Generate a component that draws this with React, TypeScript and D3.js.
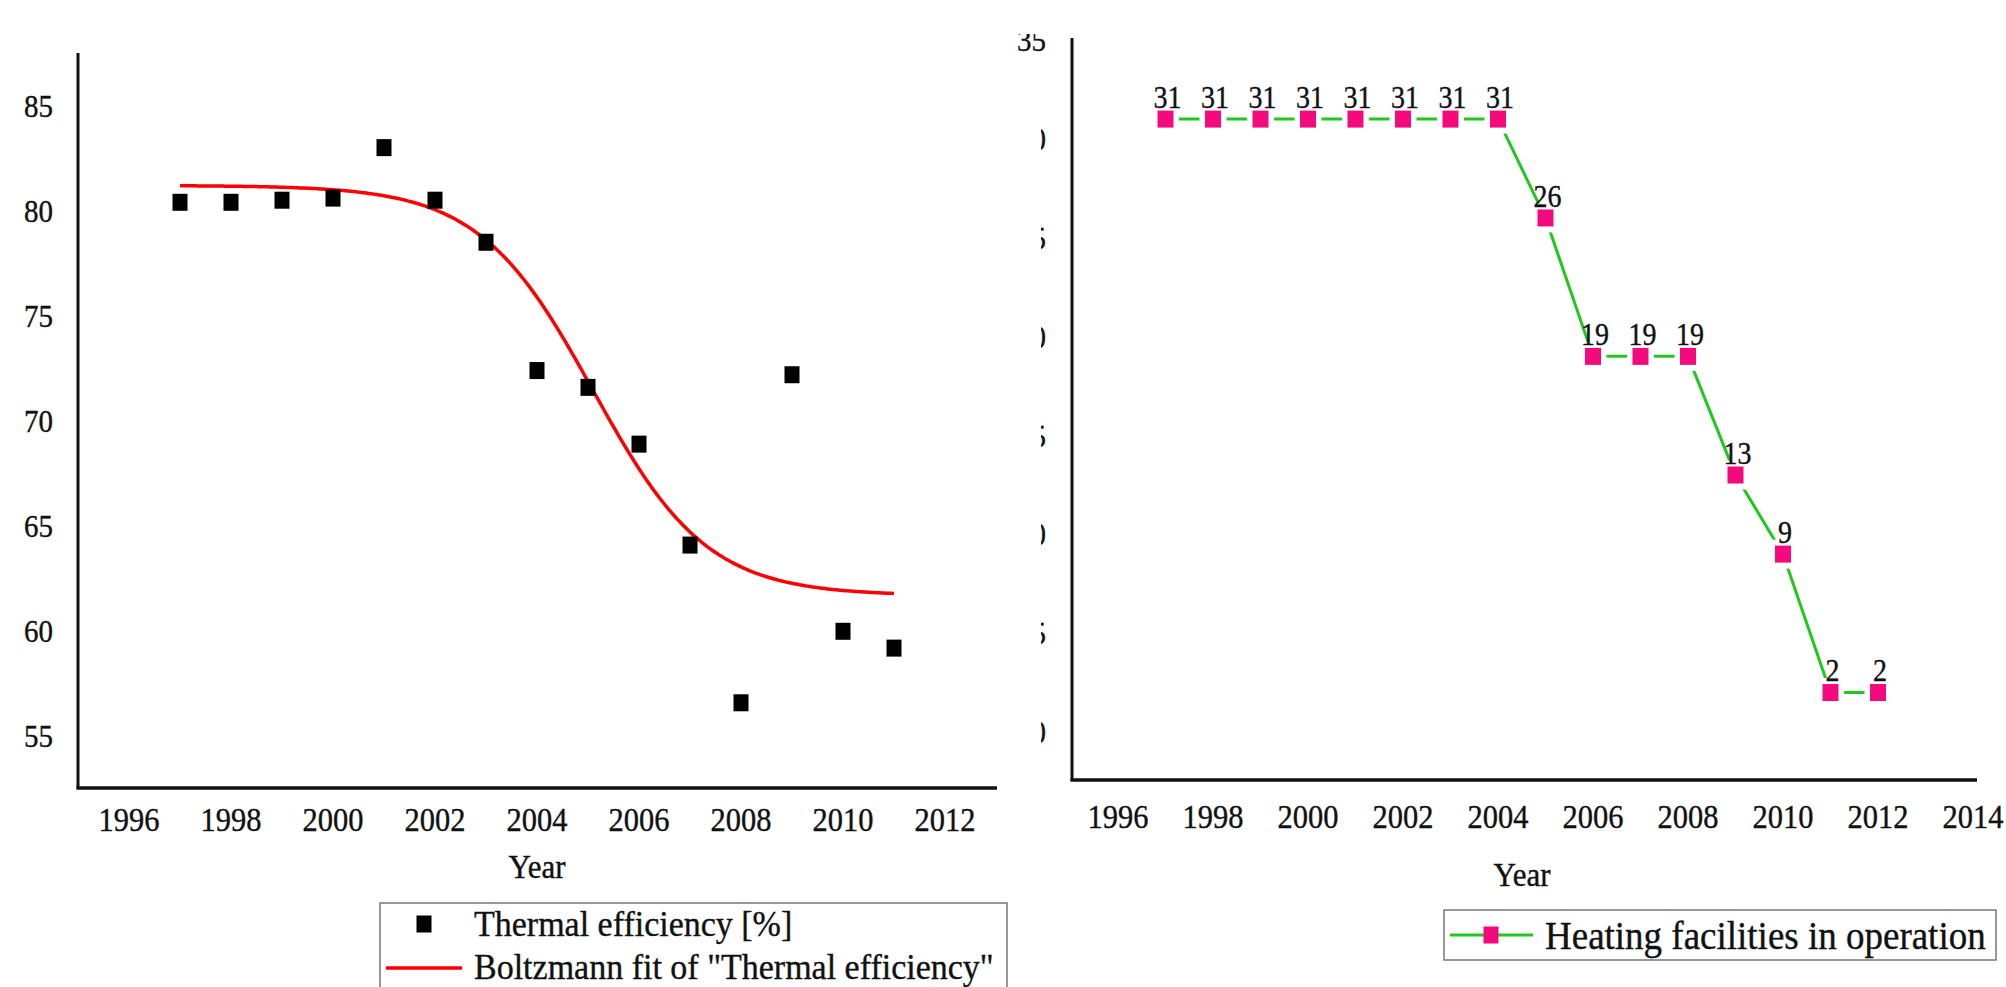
import React from "react";
import * as d3 from "d3";

// ---------- data ----------
const effYears = [1997, 1998, 1999, 2000, 2001, 2002, 2003, 2004, 2005, 2006, 2007, 2008, 2009, 2010, 2011];
const thermalEfficiency = [80.4, 80.4, 80.5, 80.6, 83.0, 80.5, 78.5, 72.4, 71.6, 68.9, 64.1, 56.6, 72.2, 60.0, 59.2];
// Boltzmann fit parameters (A1, A2, x0, dx)
const fitA1 = 81.2;
const fitA2 = 61.7;
const fitX0 = 2005.1;
const fitDx = 1.12;
const leftYTicks = [55, 60, 65, 70, 75, 80, 85];
const leftXTicks = [1996, 1998, 2000, 2002, 2004, 2006, 2008, 2010, 2012];

const facYears = [1997, 1998, 1999, 2000, 2001, 2002, 2003, 2004, 2005, 2006, 2007, 2008, 2009, 2010, 2011, 2012];
const facilities = [31, 31, 31, 31, 31, 31, 31, 31, 26, 19, 19, 19, 13, 9, 2, 2];
const rightYTicks = [0, 5, 10, 15, 20, 25, 30, 35];
const rightXTicks = [1996, 1998, 2000, 2002, 2004, 2006, 2008, 2010, 2012, 2014];

const FONT = "'Liberation Serif', 'Times New Roman', serif";
const PINK = "#f50a7d";
const GREEN = "#1fc81f";

function Txt({ x, y, size, anchor = "middle", sy = 1.12, children }: any) {
  return (
    <text
      transform={`translate(${x},${y}) scale(1,${sy})`}
      fontFamily={FONT}
      fontSize={size}
      textAnchor={anchor}
      dy="0.34em"
      fill="#111"
      stroke="#111"
      strokeWidth={0.35}
    >
      {children}
    </text>
  );
}

export default function App() {
  // left scales
  const lx = d3.scaleLinear().domain([1995, 2013]).range([78, 996]);
  const ly = d3.scaleLinear().domain([52.5, 87.5]).range([789, 53]);
  // right scales
  const rx = d3.scaleLinear().domain([1995, 2014]).range([1070.5, 1973]);
  const ry = d3.scaleLinear().domain([-2.5, 35]).range([781.5, 40]);

  const boltz = (t: number) => fitA2 + (fitA1 - fitA2) / (1 + Math.exp((t - fitX0) / fitDx));
  const fitXs = d3.range(effYears[0], effYears[effYears.length - 1] + 0.001, 0.05);
  const fitPath = d3
    .line<number>()
    .x((t) => lx(t))
    .y((t) => ly(boltz(t)))
    .curve(d3.curveMonotoneX)(fitXs) as string;

  const facPath = d3
    .line<number>()
    .x((_, i) => rx(facYears[i]))
    .y((v) => ry(v))(facilities) as string;

  const msW = 15;
  const msH = 17;

  return (
    <svg
      width={2006}
      height={987}
      style={{ position: "absolute", left: 0, top: 0, background: "#fff" }}
    >
      <defs>
        <clipPath id="rightClip">
          <rect x={1000} y={34} width={1006} height={953} />
        </clipPath>
      </defs>
      <rect x={0} y={0} width={2006} height={987} fill="#fff" />

      {/* ---------- right panel ---------- */}
      <g clipPath="url(#rightClip)">
        {rightYTicks.map((t) => (
          <Txt key={t} x={1046} y={ry(t)} size={29} anchor="end">
            {t}
          </Txt>
        ))}
        <line x1={1072} x2={1072} y1={38} y2={781} stroke="#111" strokeWidth={3} />
        <line x1={1070.5} x2={1977} y1={780} y2={780} stroke="#111" strokeWidth={3.5} />
        {rightXTicks.map((t) => (
          <Txt key={t} x={rx(t)} y={816} size={30.5}>
            {t}
          </Txt>
        ))}
        <Txt x={1522} y={874} size={31}>Year</Txt>

        <path d={facPath} fill="none" stroke={GREEN} strokeWidth={3} />
        {facilities.map((v, i) => (
          <rect
            key={"h" + i}
            x={rx(facYears[i]) - msW / 2 - 6}
            y={ry(v) - msH / 2 - 6}
            width={msW + 12}
            height={msH + 12}
            fill="#fff"
          />
        ))}
        {facilities.map((v, i) => (
          <rect
            key={"m" + i}
            x={rx(facYears[i]) - 8}
            y={ry(v) - msH / 2}
            width={16}
            height={msH}
            fill={PINK}
          />
        ))}
        {facilities.map((v, i) => (
          <Txt key={"l" + i} x={rx(facYears[i]) + 2} y={ry(v) - 22} size={28} sy={1.15}>
            {v}
          </Txt>
        ))}

        {/* legend */}
        <rect x={1444} y={910} width={552} height={50} fill="#fff" stroke="#777" strokeWidth={1.5} />
        <line x1={1450} x2={1533} y1={935} y2={935} stroke={GREEN} strokeWidth={3} />
        <rect x={1491 - 7.5} y={935 - 8.5} width={15} height={17} fill={PINK} />
        <Txt x={1545} y={935} size={37} anchor="start" sy={1.08}>
          Heating facilities in operation
        </Txt>
      </g>

      {/* ---------- left panel (covers part of right panel) ---------- */}
      <rect x={0} y={52} width={1041} height={935} fill="#fff" />
      <g>
        {leftYTicks.map((t) => (
          <Txt key={t} x={53} y={ly(t)} size={29} anchor="end">
            {t}
          </Txt>
        ))}
        <line x1={78} x2={78} y1={53} y2={789} stroke="#111" strokeWidth={3} />
        <line x1={76.5} x2={997} y1={788} y2={788} stroke="#111" strokeWidth={3.5} />
        {leftXTicks.map((t) => (
          <Txt key={t} x={lx(t)} y={819} size={30.5}>
            {t}
          </Txt>
        ))}
        <Txt x={537} y={866} size={31}>Year</Txt>

        <path d={fitPath} fill="none" stroke="#ff0000" strokeWidth={3.5} />
        {thermalEfficiency.map((v, i) => (
          <rect
            key={i}
            x={lx(effYears[i]) - msW / 2}
            y={ly(v) - msH / 2}
            width={msW}
            height={msH}
            fill="#000"
          />
        ))}

        {/* legend */}
        <rect x={380} y={903} width={627} height={120} fill="#fff" stroke="#777" strokeWidth={1.5} />
        <rect x={424 - 7.5} y={924 - 8.5} width={15} height={17} fill="#000" />
        <Txt x={474} y={924} size={34} anchor="start" sy={1.06}>
          Thermal efficiency [%]
        </Txt>
        <line x1={386} x2={462} y1={968} y2={968} stroke="#ff0000" strokeWidth={3.5} />
        <Txt x={474} y={967} size={34} anchor="start" sy={1.04}>
          Boltzmann fit of "Thermal efficiency"
        </Txt>
      </g>
    </svg>
  );
}
